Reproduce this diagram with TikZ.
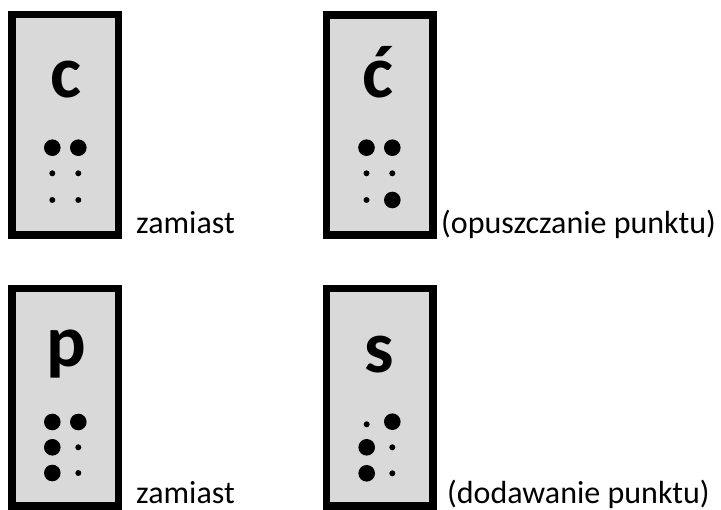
\documentclass[tikz,border=0pt]{standalone}
\usepackage{fontspec}
\setmainfont{Carlito}
\definecolor{cardgray}{HTML}{D9D9D9}
\tikzset{
  card/.style={draw=black, line width=7.5pt, fill=cardgray},
  letter/.style={font=\fontsize{74}{74}\selectfont\bfseries, anchor=base, inner sep=0pt},
  caption/.style={font=\fontsize{32}{32}\selectfont, anchor=base west, inner sep=0pt}
}
\begin{document}
\begin{tikzpicture}[x=1pt,y=-1pt]
\useasboundingbox (0,0) rectangle (721,510);
% cards
\draw[card] (11.75,14.75) rectangle (118.25,235.25);
\draw[card] (326.5,15.25) rectangle (432.75,235.25);
\draw[card] (11.75,288.75) rectangle (118.25,506.25);
\draw[card] (326.5,288.75) rectangle (432.75,506.25);
% letters
\node[letter] (lc) at (66,98) {c};
\node[letter] (lcc) at (378,98) {ć};
\node[letter] (lp) at (66,367) {p};
\node[letter] (ls) at (379,373) {s};
% captions
\node[caption] (z1) at (136,234) {zamiast};
\node[caption] (t1) at (441,234) {(opuszczanie punktu)};
\node[caption] (z2) at (136,504) {zamiast};
\node[caption] (t2) at (447,504) {(dodawanie punktu)};
% dots card 1: c = dots 1,4
\fill (52.3,147.7) circle (8.3);
\fill (78.3,147.7) circle (8.3);
\fill (52.3,173.3) circle (3);
\fill (78.3,173.3) circle (3);
\fill (52.3,200) circle (3);
\fill (78.3,200) circle (3);
% dots card 2: ć = 1,4,6
\fill (366.5,147.7) circle (8.3);
\fill (392.3,147.7) circle (8.3);
\fill (366.5,173.3) circle (3);
\fill (392.3,173.3) circle (3);
\fill (366.5,200) circle (3);
\fill (392.3,200) circle (8.3);
% dots card 3: p = 1,2,3,4
\fill (52.3,422) circle (8.3);
\fill (78.3,422) circle (8.3);
\fill (52.3,447.3) circle (8.3);
\fill (78.3,447.3) circle (3);
\fill (52.3,473) circle (8.3);
\fill (78.3,473) circle (3);
% dots card 4: s = 2,3,4
\fill (366.7,424.3) circle (3);
\fill (392.3,421.7) circle (8.3);
\fill (366.7,447.3) circle (8.3);
\fill (392.3,447.3) circle (3);
\fill (366.7,473.3) circle (8.3);
\fill (392.3,473.3) circle (3);
\end{tikzpicture}
\end{document}
